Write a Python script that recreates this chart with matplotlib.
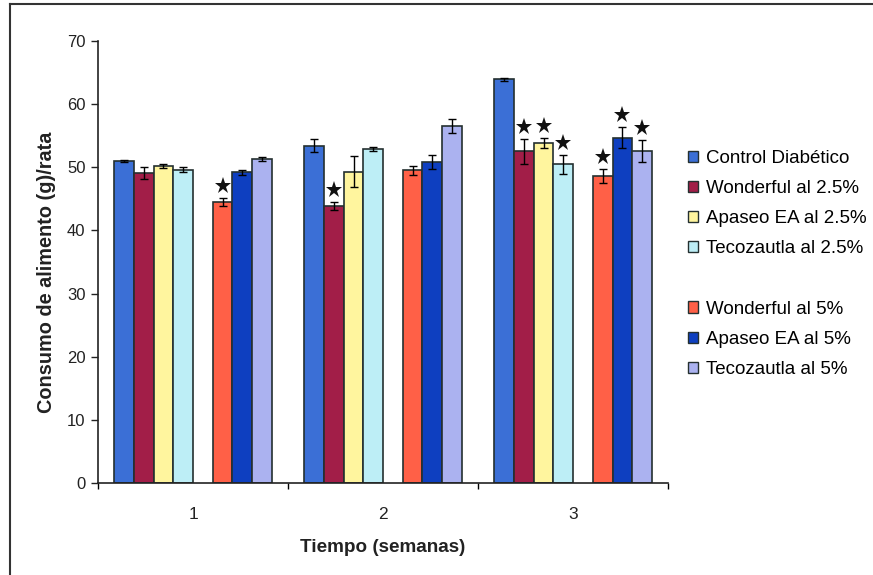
import matplotlib
matplotlib.use("Agg")
import matplotlib.pyplot as plt
from matplotlib.patches import Patch
from matplotlib.lines import Line2D
import numpy as np

plt.rcParams['font.family'] = ['Liberation Sans', 'DejaVu Sans']

weeks = ["1", "2", "3"]
series = ["Control Diabético", "Wonderful al 2.5%", "Apaseo EA al 2.5%",
          "Tecozautla al 2.5%", "Wonderful al 5%", "Apaseo EA al 5%",
          "Tecozautla al 5%"]
# mean intake per series, one value per week
control = [51.0, 53.4, 63.9]
wonderful_25 = [49.1, 43.9, 52.5]
apaseo_25 = [50.2, 49.3, 53.9]
tecozautla_25 = [49.6, 52.9, 50.5]
wonderful_5 = [44.5, 49.5, 48.6]
apaseo_5 = [49.2, 50.8, 54.7]
tecozautla_5 = [51.3, 56.5, 52.6]
# standard errors
control_err = [0.2, 1.0, 0.2]
wonderful_25_err = [1.0, 0.6, 2.0]
apaseo_25_err = [0.3, 2.4, 0.8]
tecozautla_25_err = [0.4, 0.3, 1.5]
wonderful_5_err = [0.6, 0.7, 1.1]
apaseo_5_err = [0.4, 1.1, 1.6]
tecozautla_5_err = [0.3, 1.1, 1.7]
# significance marks (True = starred)
control_sig = [False, False, False]
wonderful_25_sig = [False, True, True]
apaseo_25_sig = [False, False, True]
tecozautla_25_sig = [False, False, True]
wonderful_5_sig = [True, False, True]
apaseo_5_sig = [False, False, True]
tecozautla_5_sig = [False, False, True]

values = [control, wonderful_25, apaseo_25, tecozautla_25,
          wonderful_5, apaseo_5, tecozautla_5]
errors = [control_err, wonderful_25_err, apaseo_25_err, tecozautla_25_err,
          wonderful_5_err, apaseo_5_err, tecozautla_5_err]
sigs = [control_sig, wonderful_25_sig, apaseo_25_sig, tecozautla_25_sig,
        wonderful_5_sig, apaseo_5_sig, tecozautla_5_sig]
colors = ["#3B6FD6", "#A21E48", "#FFF59E", "#BDEEF6",
          "#FF6047", "#0E3FC0", "#ABB2F0"]
# slot index inside each group (slot 4 is left empty)
slots = [0, 1, 2, 3, 5, 6, 7]

fig = plt.figure(figsize=(8.73, 5.75), dpi=100)
ax = fig.add_axes([0.1123, 0.1595, 0.653, 0.7695])

n_slots = 8
gap = 1.64
w = 1.0 / (n_slots + gap)
x = np.arange(len(weeks))
edge = "#243030"

for vals, errs, sig, col, slot in zip(values, errors, sigs, colors, slots):
    xs = x + (slot - (n_slots - 1) / 2) * w
    ax.bar(xs, vals, width=w, color=col, edgecolor=edge, linewidth=1.2, zorder=2)
    ax.errorbar(xs, vals, yerr=errs, fmt='none', ecolor='black',
                elinewidth=1.0, capsize=3.2, capthick=1.0, zorder=3)
    for xi, v, e, s in zip(xs, vals, errs, sig):
        if s:
            ax.plot(xi, v + e + 1.9, marker='*', color='#111111',
                    markersize=12.5, markeredgewidth=0, zorder=4)

ax.set_xlim(-0.5, 2.5)
ax.set_ylim(0, 70)
ax.set_yticks(np.arange(0, 71, 10))
ax.tick_params(axis='y', direction='out', length=5, width=1, labelsize=12,
               pad=4, colors='#222222', labelcolor='#222222')
ax.set_xticks([-0.5, 0.5, 1.5, 2.5])
ax.set_xticklabels([])
ax.set_xticks(x, minor=True)
ax.set_xticklabels(weeks, minor=True)
ax.tick_params(axis='x', which='major', direction='out', length=4, width=1)
ax.tick_params(axis='x', which='minor', length=0, labelsize=12.5, pad=17,
               labelcolor='#222222')

for side in ('top', 'right'):
    ax.spines[side].set_visible(False)
for side in ('left', 'bottom'):
    ax.spines[side].set_linewidth(1.2)
    ax.spines[side].set_color('#222222')

ax.set_ylabel("Consumo de alimento (g)/rata", fontsize=14.3, fontweight='bold',
              color='#222222')
ax.yaxis.set_label_coords(-0.073, 0.477)
ax.set_xlabel("Tiempo (semanas)", fontsize=13.6, fontweight='bold',
              labelpad=12, color='#222222')

handles = []
labels = []
for name, col in zip(series[:4], colors[:4]):
    handles.append(Patch(facecolor=col, edgecolor=edge, linewidth=1.0))
    labels.append(name)
handles.append(Line2D([], [], linestyle='none'))
labels.append(" ")
for name, col in zip(series[4:], colors[4:]):
    handles.append(Patch(facecolor=col, edgecolor=edge, linewidth=1.0))
    labels.append(name)

fig.legend(handles, labels, loc='upper left', bbox_to_anchor=(0.779, 0.752),
           frameon=False, fontsize=13.5, handlelength=0.55, handleheight=0.55,
           handletextpad=0.45, labelspacing=0.70, borderaxespad=0)

# outer frame lines
fig.add_artist(Line2D([10 / 873, 1.0], [1 - 4 / 575, 1 - 4 / 575],
                      transform=fig.transFigure, color='#333333', linewidth=1.5))
fig.add_artist(Line2D([10 / 873, 10 / 873], [0, 1 - 4 / 575],
                      transform=fig.transFigure, color='#333333', linewidth=1.5))

fig.savefig("out.png", dpi=100)
